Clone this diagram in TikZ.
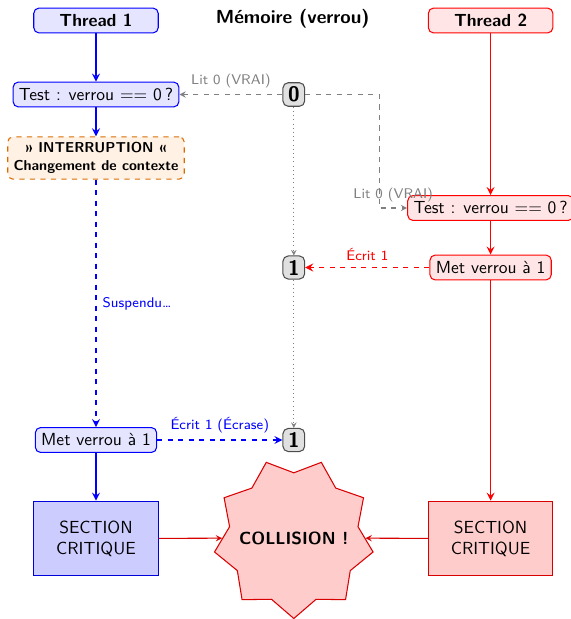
\documentclass[tikz,border=0pt]{standalone}
\usetikzlibrary{shapes.geometric,arrows}
\begin{document}
\begin{tikzpicture}[x=0.571429pt,y=-0.571429pt,font=\sffamily,
  box/.style={draw,semithick,rounded corners=3pt,inner sep=3.33pt,minimum height=0.5cm},
  t1/.style={box,draw=blue,fill=blue!10},
  t2/.style={box,draw=red,fill=red!10},
  head/.style={font=\sffamily\bfseries,minimum width=2.5cm},
  mem/.style={draw=black!70,fill=black!12,semithick,rounded corners=3pt,
    font=\sffamily\bfseries\large,inner xsep=2.9pt,inner ysep=2.3pt},
  crit/.style={draw,semithick,minimum width=2.5cm,minimum height=1.5cm,align=center},
  lbl/.style={font=\sffamily\footnotesize},
  flow/.style={line width=1pt,-stealth},
  probe/.style={gray,semithick,-stealth},
]
\useasboundingbox (0,0) rectangle (570,619);

% column headers
\node[t1,head] (th1) at (96,20.5) {Thread 1};
\node[font=\sffamily\bfseries\fontsize{10.8}{13}\selectfont] (title) at (292.7,19) {Mémoire (verrou)};
\node[t2,head] (th2) at (490.6,20.5) {Thread 2};

% thread 1 steps
\node[t1] (test1) at (96,94.5) {Test : verrou == 0\,?};
\node[box,dashed,draw=orange!85!black,fill=orange!10,align=center,
  font=\sffamily\bfseries\fontsize{8.2}{10}\selectfont]
  (intr) at (96,158) {» INTERRUPTION «\\Changement de contexte};
\node[t1] (met1) at (96,440) {Met verrou à 1};
\node[crit,draw=blue!85!black,fill=blue!20] (sc1) at (96,538.5) {SECTION\\CRITIQUE};

% memory values
\node[mem] (mem0) at (293.8,94.5) {0};
\node[mem] (mem1a) at (293.8,267.5) {1};
\node[mem] (mem1b) at (293.8,440) {1};
\node[star,star points=9,star point ratio=1.235,shape border rotate=180,
  minimum size=92pt,inner sep=0pt,draw=red!85!black,fill=red!20,semithick]
  (boom) at (293.8,538) {};
\node[font=\sffamily\bfseries] (boomtext) at (boom.center) {COLLISION !};

% thread 2 steps
\node[t2] (test2) at (490.6,208) {Test : verrou == 0\,?};
\node[t2] (met2) at (490.6,267.5) {Met verrou à 1};
\node[crit,draw=red!85!black,fill=red!20] (sc2) at (490.6,538.5) {SECTION\\CRITIQUE};

% thread 1 flow
\draw[flow,blue] (th1) -- (test1);
\draw[flow,blue] (test1) -- (intr);
\draw[flow,blue,dashed] (intr) -- node[lbl,right,midway]{Suspendu\dots} (met1);
\draw[flow,blue] (met1) -- (sc1);
\draw[flow,blue,dashed] (met1) -- node[lbl,above]{Écrit 1 (Écrase)} (mem1b);

% thread 2 flow
\draw[flow,red] (th2) -- (test2);
\draw[flow,red] (test2) -- (met2);
\draw[flow,red] (met2) -- (sc2);
\draw[flow,red,dashed] (met2) -- node[lbl,above]{Écrit 1} (mem1a);

% reads of the lock
\coordinate (bend) at (379.3,94.5);
\draw[probe,dashed] (mem0) -- node[lbl,above]{Lit 0 (VRAI)} (test1);
\draw[probe,dashed] (mem0.east) -- (bend) |- node[lbl,near end,above]{Lit 0 (VRAI)} (test2.west);

% memory timeline
\draw[gray,dotted,-stealth] (mem0) -- (mem1a);
\draw[gray,dotted,-stealth] (mem1a) -- (mem1b);

% both threads reach the critical section
\draw[red!85!black,semithick,-stealth] (sc1) -- (boom);
\draw[red!85!black,semithick,-stealth] (sc2) -- (boom);
\end{tikzpicture}
\end{document}
